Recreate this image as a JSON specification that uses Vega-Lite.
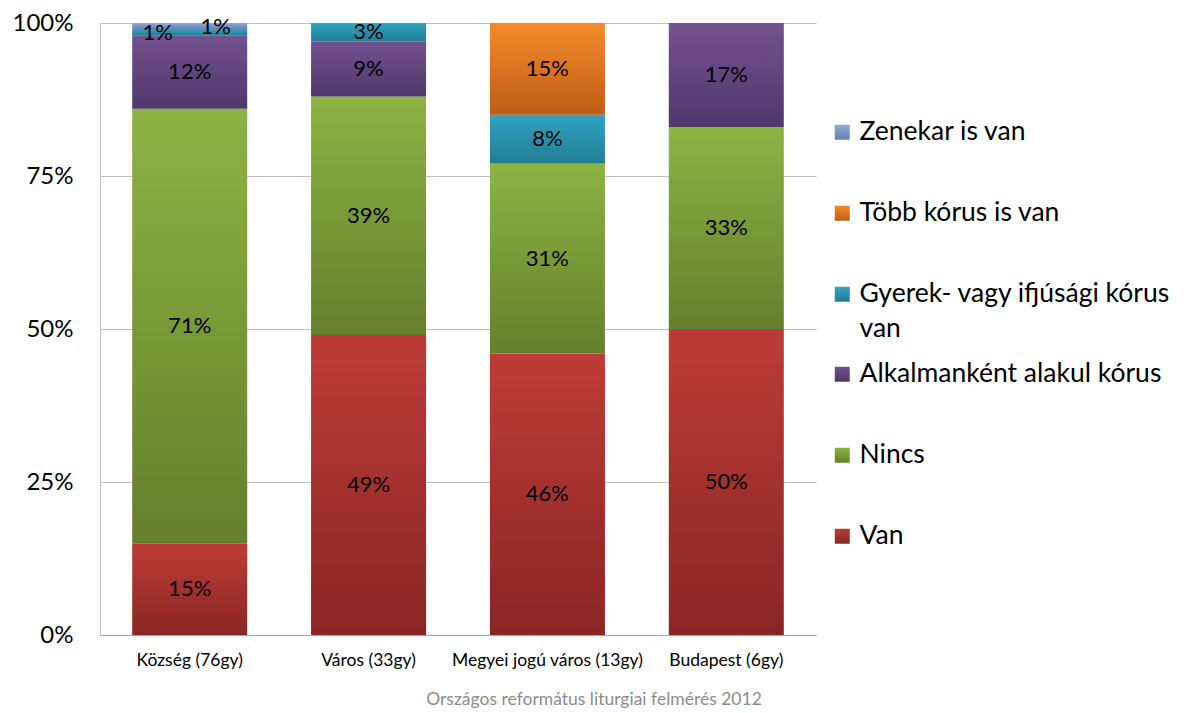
{
  "$schema": "https://vega.github.io/schema/vega-lite/v6.json",
  "width": 716,
  "height": 612,
  "autosize": {"type": "none"},
  "padding": {"left": 100, "top": 23, "right": 368, "bottom": 78},
  "background": "white",
  "config": {"font": "Lato", "view": {"stroke": null}},
  "title": {
    "text": "Országos református liturgiai felmérés 2012",
    "orient": "bottom",
    "anchor": "middle",
    "frame": "group",
    "dx": 136,
    "fontSize": 17.5,
    "fontWeight": "normal",
    "color": "#8c8c8c",
    "offset": 22
  },
  "data": {
    "values": [
      {"cat": "Község (76gy)", "series": "Van", "ord": 1, "value": 15},
      {"cat": "Község (76gy)", "series": "Nincs", "ord": 2, "value": 71},
      {"cat": "Község (76gy)", "series": "Alkalmanként alakul kórus", "ord": 3, "value": 12},
      {"cat": "Község (76gy)", "series": "Gyerek- vagy ifjúsági kórus van", "ord": 4, "value": 1},
      {"cat": "Község (76gy)", "series": "Zenekar is van", "ord": 6, "value": 1},
      {"cat": "Város (33gy)", "series": "Van", "ord": 1, "value": 49},
      {"cat": "Város (33gy)", "series": "Nincs", "ord": 2, "value": 39},
      {"cat": "Város (33gy)", "series": "Alkalmanként alakul kórus", "ord": 3, "value": 9},
      {"cat": "Város (33gy)", "series": "Gyerek- vagy ifjúsági kórus van", "ord": 4, "value": 3},
      {"cat": "Megyei jogú város (13gy)", "series": "Van", "ord": 1, "value": 46},
      {"cat": "Megyei jogú város (13gy)", "series": "Nincs", "ord": 2, "value": 31},
      {"cat": "Megyei jogú város (13gy)", "series": "Gyerek- vagy ifjúsági kórus van", "ord": 4, "value": 8},
      {"cat": "Megyei jogú város (13gy)", "series": "Több kórus is van", "ord": 5, "value": 15},
      {"cat": "Budapest (6gy)", "series": "Van", "ord": 1, "value": 50},
      {"cat": "Budapest (6gy)", "series": "Nincs", "ord": 2, "value": 33},
      {"cat": "Budapest (6gy)", "series": "Alkalmanként alakul kórus", "ord": 3, "value": 17}
    ]
  },
  "transform": [
    {"stack": "value", "groupby": ["cat"], "sort": [{"field": "ord", "order": "ascending"}], "as": ["v0", "v1"]},
    {"calculate": "(datum.v0 + datum.v1) / 2", "as": "mid"},
    {"calculate": "datum.value + '%'", "as": "label"}
  ],
  "encoding": {
    "x": {
      "field": "cat",
      "type": "nominal",
      "sort": ["Község (76gy)", "Város (33gy)", "Megyei jogú város (13gy)", "Budapest (6gy)"],
      "scale": {"paddingInner": 0.357, "paddingOuter": 0.18},
      "axis": {
        "title": null,
        "labelAngle": 0,
        "labelFontSize": 17.5,
        "labelColor": "black",
        "labelPadding": 16,
        "ticks": false,
        "domainColor": "#a6a6a6",
        "labelLimit": 300
      }
    }
  },
  "layer": [
    {
      "transform": [{"filter": "datum.ord >= 4"}],
      "mark": {"type": "bar"},
      "encoding": {
        "y": {
          "field": "v1",
          "type": "quantitative",
          "scale": {"domain": [0, 100], "nice": false},
          "axis": {
            "title": null,
            "values": [0, 25, 50, 75, 100],
            "labelExpr": "datum.value + '%'",
            "labelFontSize": 24,
            "labelColor": "black",
            "labelPadding": 27,
            "ticks": false,
            "grid": true,
            "gridColor": "#bfbfbf",
            "domainColor": "#bfbfbf"
          }
        },
        "y2": {"field": "v0"},
        "color": {
          "field": "series",
          "type": "nominal",
          "scale": {
            "domain": ["Zenekar is van", "Több kórus is van", "Gyerek- vagy ifjúsági kórus van"],
            "range": [
              {"expr": "{gradient: 'linear', x1: 0, y1: 0, x2: 0, y2: 1, stops: [{offset: 0, color: '#8eabd6'}, {offset: 1, color: '#6480b5'}]}"},
              {"expr": "{gradient: 'linear', x1: 0, y1: 0, x2: 0, y2: 1, stops: [{offset: 0, color: '#f48a2a'}, {offset: 1, color: '#bd5e17'}]}"},
              {"expr": "{gradient: 'linear', x1: 0, y1: 0, x2: 0, y2: 1, stops: [{offset: 0, color: '#31a3c2'}, {offset: 1, color: '#227d94'}]}"}
            ]
          },
          "legend": {
            "orient": "none",
            "legendX": 729,
            "legendY": 96,
            "title": null,
            "symbolType": "square",
            "symbolSize": 225,
            "symbolStrokeWidth": 0,
            "labelFontSize": 26.5,
            "labelColor": "black",
            "labelOffset": 4,
            "labelLimit": 400,
            "rowPadding": 54,
            "labelExpr": "datum.label == 'Gyerek- vagy ifjúsági kórus van' ? ['Gyerek- vagy ifjúsági kórus', 'van'] : datum.label",
            "encode": {
              "labels": {
                "update": {
                  "lineHeight": {"value": 35}
                }
              }
            }
          }
        }
      }
    },
    {
      "transform": [{"filter": "datum.ord <= 3"}],
      "mark": {"type": "bar"},
      "encoding": {
        "y": {
          "field": "v1",
          "type": "quantitative",
          "scale": {"domain": [0, 100], "nice": false},
          "axis": {
            "title": null,
            "values": [0, 25, 50, 75, 100],
            "labelExpr": "datum.value + '%'",
            "labelFontSize": 24,
            "labelColor": "black",
            "labelPadding": 27,
            "ticks": false,
            "grid": true,
            "gridColor": "#bfbfbf",
            "domainColor": "#bfbfbf"
          }
        },
        "y2": {"field": "v0"},
        "color": {
          "field": "series",
          "type": "nominal",
          "scale": {
            "domain": ["Alkalmanként alakul kórus", "Nincs", "Van"],
            "range": [
              {"expr": "{gradient: 'linear', x1: 0, y1: 0, x2: 0, y2: 1, stops: [{offset: 0, color: '#73528f'}, {offset: 1, color: '#4f386b'}]}"},
              {"expr": "{gradient: 'linear', x1: 0, y1: 0, x2: 0, y2: 1, stops: [{offset: 0, color: '#8db343'}, {offset: 1, color: '#64802c'}]}"},
              {"expr": "{gradient: 'linear', x1: 0, y1: 0, x2: 0, y2: 1, stops: [{offset: 0, color: '#be3c38'}, {offset: 1, color: '#892624'}]}"}
            ]
          },
          "legend": {
            "orient": "none",
            "legendX": 729,
            "legendY": 338,
            "title": null,
            "symbolType": "square",
            "symbolSize": 225,
            "symbolStrokeWidth": 0,
            "labelFontSize": 26.5,
            "labelColor": "black",
            "labelOffset": 4,
            "labelLimit": 400,
            "rowPadding": 54
          }
        }
      }
    },
    {
      "transform": [{"filter": "!(datum.cat == 'Község (76gy)' && datum.value == 1)"}],
      "mark": {"type": "text", "fontSize": 22, "color": "black", "baseline": "middle"},
      "encoding": {
        "y": {"field": "mid", "type": "quantitative"},
        "text": {"field": "label", "type": "nominal"}
      }
    },
    {
      "transform": [{"filter": "datum.cat == 'Község (76gy)' && datum.series == 'Gyerek- vagy ifjúsági kórus van'"}],
      "mark": {"type": "text", "fontSize": 22, "color": "black", "baseline": "middle", "dx": -32, "dy": 1},
      "encoding": {
        "y": {"field": "mid", "type": "quantitative"},
        "text": {"field": "label", "type": "nominal"}
      }
    },
    {
      "transform": [{"filter": "datum.cat == 'Község (76gy)' && datum.series == 'Zenekar is van'"}],
      "mark": {"type": "text", "fontSize": 22, "color": "black", "baseline": "middle", "dx": 26, "dy": 1},
      "encoding": {
        "y": {"field": "mid", "type": "quantitative"},
        "text": {"field": "label", "type": "nominal"}
      }
    }
  ],
  "resolve": {"scale": {"color": "independent"}}
}
